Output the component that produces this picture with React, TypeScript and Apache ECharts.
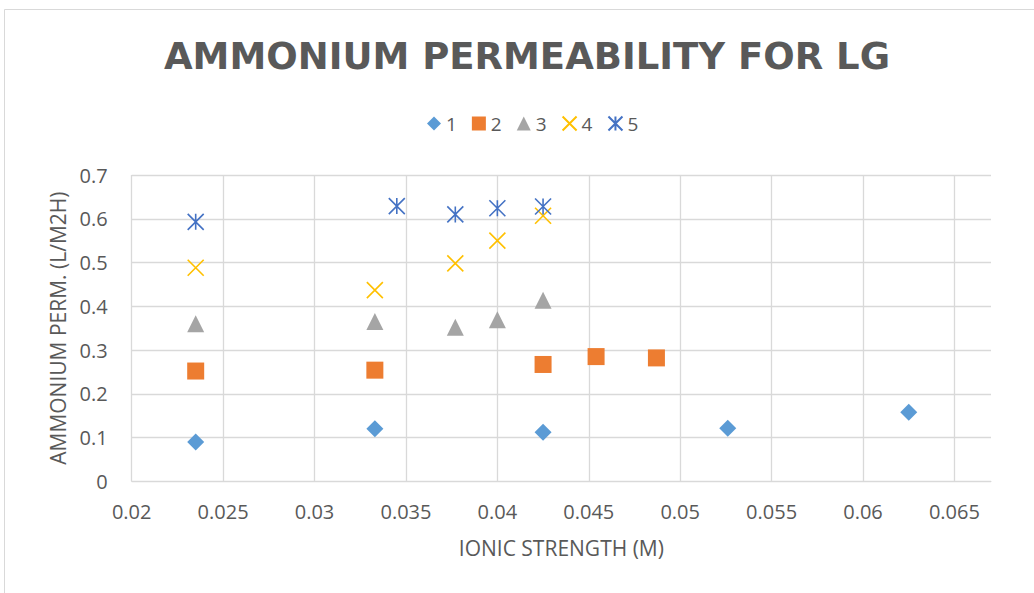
import React, { useEffect, useRef } from "react";
import * as echarts from "echarts";

const seriesNames = ["1", "2", "3", "4", "5"];
const xIonic1 = [0.0235, 0.0333, 0.0425, 0.0526, 0.0625];
const perm1 = [0.09, 0.12, 0.112, 0.121, 0.158];
const xIonic2 = [0.0235, 0.0333, 0.0425, 0.0454, 0.0487];
const perm2 = [0.252, 0.254, 0.267, 0.285, 0.282];
const xIonic3 = [0.0235, 0.0333, 0.0377, 0.04, 0.0425];
const perm3 = [0.36, 0.365, 0.352, 0.369, 0.414];
const xIonic4 = [0.0235, 0.0333, 0.0377, 0.04, 0.0425];
const perm4 = [0.488, 0.437, 0.498, 0.55, 0.607];
const xIonic5 = [0.0235, 0.0345, 0.0377, 0.04, 0.0425];
const perm5 = [0.593, 0.629, 0.61, 0.624, 0.628];

const colors = ["#5B9BD5", "#ED7D31", "#A5A5A5", "#FFC000", "#4472C4"];
const FONT = "'Open Sans', 'Noto Sans', sans-serif";
const TITLE_FONT = "'DejaVu Sans', 'Open Sans', sans-serif";
const TXT = "#595959";
const GRID = "#D9D9D9";

const xPath = "path://M0,0L10,10M10,0L0,10";
const starPath = "path://M0,0L10,10M10,0L0,10M5,0L5,10";

function pairs(xs: number[], ys: number[]) {
  return xs.map((x, i) => [x, ys[i]]);
}

export default function App() {
  const ref = useRef<HTMLDivElement>(null);
  useEffect(() => {
    if (!ref.current) return;
    const chart = echarts.init(ref.current, null, { renderer: "svg" });
    const xs = [xIonic1, xIonic2, xIonic3, xIonic4, xIonic5];
    const ys = [perm1, perm2, perm3, perm4, perm5];
    const symbols = ["diamond", "rect", "triangle", xPath, starPath];
    const series = seriesNames.map((name, i) => {
      const stroked = i >= 3;
      return {
        name,
        type: "scatter",
        data: pairs(xs[i], ys[i]),
        symbol: symbols[i],
        symbolSize: stroked ? 16 : 17,
        itemStyle: stroked
          ? { color: "rgba(0,0,0,0)", borderColor: colors[i], borderWidth: 1.6, opacity: 1 }
          : { color: colors[i], opacity: 1 },
      };
    });
    chart.setOption({
      animation: false,
      backgroundColor: "#ffffff",
      graphic: [
        {
          type: "rect",
          shape: { x: 4.5, y: 9.5, width: 1100, height: 700 },
          style: { fill: "none", stroke: GRID, lineWidth: 1 },
          silent: true,
        },
      ],
      title: {
        text: "AMMONIUM PERMEABILITY FOR LG",
        left: 522,
        top: 33,
        textAlign: "center",
        textStyle: {
          fontFamily: TITLE_FONT,
          fontWeight: "bold",
          fontSize: 37,
          color: TXT,
        },
      },
      legend: {
        left: 427,
        top: 114,
        padding: 0,
        itemWidth: 14,
        itemHeight: 14,
        itemGap: 15,
        textStyle: { fontFamily: FONT, fontSize: 19, color: TXT },
        data: seriesNames.map((n, i) => ({ name: n, icon: symbols[i] })),
      },
      grid: { left: 131.7, top: 175, right: 43, bottom: 111.7, containLabel: false },
      xAxis: {
        type: "value",
        min: 0.02,
        max: 0.067,
        interval: 0.005,
        name: "IONIC STRENGTH (M)",
        nameLocation: "middle",
        nameGap: 56.5,
        nameTextStyle: { fontFamily: FONT, fontSize: 21, color: TXT },
        axisLine: { show: true, lineStyle: { color: GRID, width: 1 } },
        axisTick: { show: false },
        axisLabel: {
          fontFamily: FONT,
          fontSize: 20,
          color: TXT,
          margin: 20,
          showMaxLabel: false,
        },
        splitLine: { show: true, showMaxLine: false, lineStyle: { color: GRID, width: 1.3 } },
      },
      yAxis: {
        type: "value",
        min: 0,
        max: 0.7,
        interval: 0.1,
        name: "AMMONIUM PERM. (L/M2H)",
        nameLocation: "middle",
        nameGap: 58.5,
        nameTextStyle: { fontFamily: FONT, fontSize: 21, color: TXT },
        axisLine: { show: false },
        axisTick: { show: false },
        axisLabel: { fontFamily: FONT, fontSize: 20, color: TXT, margin: 24 },
        splitLine: { show: true, lineStyle: { color: GRID, width: 1.3 } },
      },
      series,
    });
    return () => chart.dispose();
  }, []);
  return (
    <div
      ref={ref}
      style={{ position: "fixed", left: 0, top: 0, width: 1034, height: 593 }}
    />
  );
}
